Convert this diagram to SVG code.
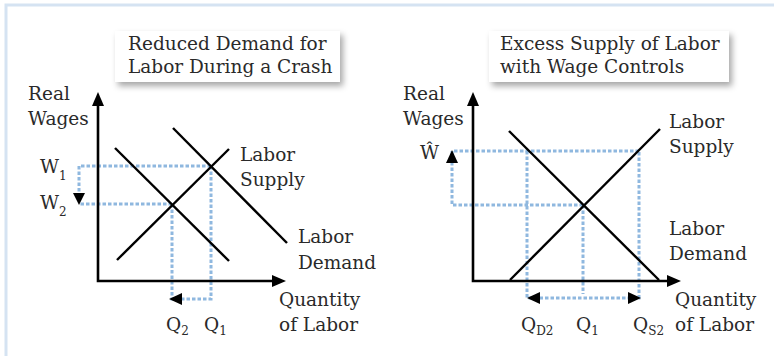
<svg xmlns="http://www.w3.org/2000/svg" width="774" height="356" viewBox="0 0 774 356">
<style>
text{font-family:"DejaVu Serif","Liberation Serif",serif;font-size:18.5px;fill:#2a2a2a}
.sub{font-size:12px}
.ax{stroke:#000;stroke-width:2.6;fill:none}
.cv{stroke:#000;stroke-width:2.4;fill:none}
.dt{stroke:#8fb8df;stroke-width:3;fill:none;stroke-dasharray:3.5 2}
.ah{fill:#000}
.box{fill:#fff;filter:url(#sh)}
</style>
<defs>
<filter id="sh" x="-10%" y="-20%" width="130%" height="160%">
<feDropShadow dx="3" dy="4" stdDeviation="3" flood-color="#000" flood-opacity="0.35"/>
</filter>
</defs>
<rect x="6" y="5" width="800" height="400" fill="#fff" stroke="#d5e3f2" stroke-width="3"/>

<g id="left-title">
<rect class="box" x="115" y="31" width="225" height="51"/>
<text x="128" y="50">Reduced Demand for</text>
<text x="128" y="73">Labor During a Crash</text>
</g>
<g id="right-title">
<rect class="box" x="489" y="31" width="240" height="51"/>
<text x="500" y="50">Excess Supply of Labor</text>
<text x="500" y="73">with Wage Controls</text>
</g>

<g id="connectors">
<!-- left dotted -->
<path class="dt" d="M211 166 H79 V194"/>
<path class="dt" d="M172 204 H79"/>
<path class="dt" d="M172 204 V299 H182"/>
<path class="dt" d="M211 166 V299 H182"/>
<!-- right dotted -->
<path class="dt" d="M639 151 H452 V163"/>
<path class="dt" d="M583 205 H452 V163"/>
<path class="dt" d="M583 205 V294"/>
<path class="dt" d="M527 151 V298 H639 V151"/>
<!-- left curves -->
<line class="cv" x1="117" y1="260" x2="229" y2="149"/>
<line class="cv" x1="173" y1="128" x2="287" y2="243"/>
<line class="cv" x1="115" y1="148" x2="229" y2="261"/>
<!-- right curves -->
<line class="cv" x1="510" y1="280" x2="660" y2="129"/>
<line class="cv" x1="509" y1="131" x2="659" y2="280"/>
<!-- axes -->
<path class="ax" d="M98 104 V281 H273"/>
<polygon class="ah" points="98,92 92,106 104,106"/>
<polygon class="ah" points="286,281 272,275 272,287"/>
<path class="ax" d="M473 104 V281 H668"/>
<polygon class="ah" points="473,92 467,106 479,106"/>
<polygon class="ah" points="681,281 667,275 667,287"/>
<!-- dotted arrowheads -->
<polygon class="ah" points="79,205 73,193 85,193"/>
<polygon class="ah" points="169,299 182,293 182,305"/>
<polygon class="ah" points="452,150 446,163 458,163"/>
<polygon class="ah" points="527,298 540,292 540,304"/>
<polygon class="ah" points="641,298 628,292 628,304"/>
</g>

<g id="left-labels">
<text x="28" y="100">Real</text>
<text x="28" y="125">Wages</text>
<text x="40" y="173">W<tspan class="sub" dy="7">1</tspan></text>
<text x="40" y="209">W<tspan class="sub" dy="7">2</tspan></text>
<text x="240" y="161">Labor</text>
<text x="240" y="186">Supply</text>
<text x="298" y="243">Labor</text>
<text x="298" y="269">Demand</text>
<text x="279" y="306">Quantity</text>
<text x="279" y="331">of Labor</text>
<text x="166" y="331">Q<tspan class="sub" dy="4">2</tspan></text>
<text x="204" y="331">Q<tspan class="sub" dy="4">1</tspan></text>
</g>

<g id="right-labels">
<text x="403" y="100">Real</text>
<text x="403" y="125">Wages</text>
<text x="420" y="159">Ŵ</text>
<text x="669" y="128">Labor</text>
<text x="669" y="153">Supply</text>
<text x="669" y="235">Labor</text>
<text x="669" y="260">Demand</text>
<text x="675" y="306">Quantity</text>
<text x="675" y="331">of Labor</text>
<text x="521" y="331">Q<tspan class="sub" dy="4">D2</tspan></text>
<text x="576" y="331">Q<tspan class="sub" dy="4">1</tspan></text>
<text x="633" y="331">Q<tspan class="sub" dy="4">S2</tspan></text>
</g>
</svg>
